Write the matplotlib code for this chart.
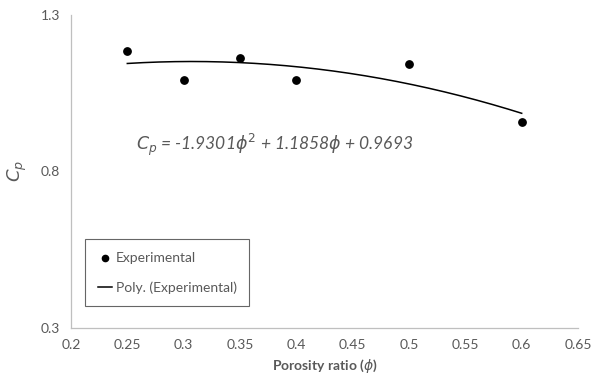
import numpy as np
import matplotlib.pyplot as plt

plt.rcParams['font.family'] = ['Lato', 'DejaVu Sans']
plt.rcParams['mathtext.fontset'] = 'dejavusans'

porosity = [0.25, 0.30, 0.35, 0.40, 0.50, 0.60]
cp = [1.185, 1.093, 1.162, 1.093, 1.144, 0.957]

# second order trendline coefficients
coef = [-1.9301, 1.1858, 0.9693]

xticks = [0.2, 0.25, 0.3, 0.35, 0.4, 0.45, 0.5, 0.55, 0.6, 0.65]
yticks = [0.3, 0.8, 1.3]

grey = '#595959'
axis_grey = '#bfbfbf'

fig = plt.figure(figsize=(6.04, 3.8), dpi=100)
ax = fig.add_axes([0.1175, 0.137, 0.8395, 0.8235])

ax.scatter(porosity, cp, s=28, color='black', zorder=3, label='Experimental')
xfit = np.linspace(min(porosity), max(porosity), 200)
ax.plot(xfit, np.polyval(coef, xfit), color='black', lw=1.1, label='Poly. (Experimental)')

ax.set_xlim(0.2, 0.65)
ax.set_ylim(0.3, 1.3)
ax.set_xticks(xticks)
ax.set_xticklabels([f'{t:g}' for t in xticks])
ax.set_yticks(yticks)
ax.tick_params(length=0, labelsize=10, colors=grey, pad=8)

for side in ['top', 'right']:
    ax.spines[side].set_visible(False)
for side in ['left', 'bottom']:
    ax.spines[side].set_color(axis_grey)
    ax.spines[side].set_linewidth(0.9)

ax.set_xlabel(r'Porosity ratio ($\phi$)', fontsize=10, fontweight='bold', color=grey, labelpad=4)
ax.set_ylabel(r'$C_p$', fontsize=13, color=grey, labelpad=8)

eq = r'$C_p$ = -1.9301$\phi^2$ + 1.1858$\phi$ + 0.9693'
ax.text(0.1285, 0.585, eq, transform=ax.transAxes, fontsize=12.5, style='italic',
        color=grey, va='center')

leg = ax.legend(loc='lower left', bbox_to_anchor=(0.028, 0.07), borderaxespad=0,
                fontsize=10, frameon=True, fancybox=False, edgecolor='#404040',
                handlelength=1.0, handletextpad=0.3, labelspacing=1.25,
                borderpad=0.9, markerscale=0.85)
leg.get_frame().set_linewidth(0.8)
for t in leg.get_texts():
    t.set_color(grey)

fig.savefig('out.png', dpi=100)
